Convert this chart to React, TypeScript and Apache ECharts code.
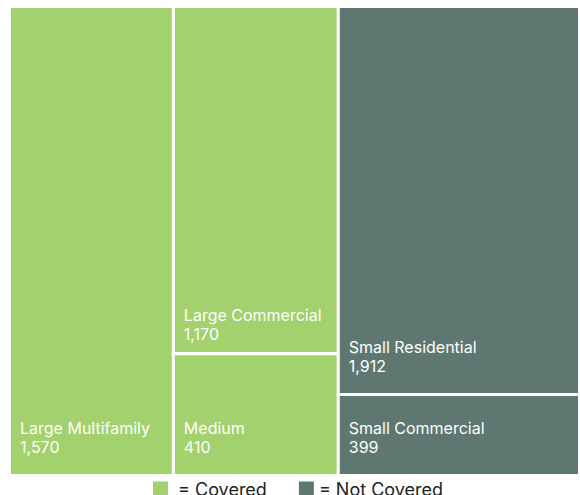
import React, { useEffect, useRef } from "react";
import * as echarts from "echarts";

// ---- data ----
const groups = ["Covered", "Not Covered"];
const categories = [
  "Large Multifamily",
  "Large Commercial",
  "Medium",
  "Small Residential",
  "Small Commercial",
];
const values = [1570, 1170, 410, 1912, 399];
const groupOf = ["Covered", "Covered", "Covered", "Not Covered", "Not Covered"];
const columnOf = [0, 1, 1, 2, 2];

// ---- styles ----
const groupColors: Record<string, string> = {
  Covered: "#a2d16d",
  "Not Covered": "#5e7771",
};
const labelBottomPad: Record<string, number> = { "Large Commercial": 9 };
const defaultBottomPad = 18;

export default function App() {
  const ref = useRef<HTMLDivElement>(null);

  useEffect(() => {
    if (!ref.current) return;
    const chart = echarts.init(ref.current, undefined, { renderer: "svg" });

    const total = values.reduce((a, b) => a + b, 0);
    const nCols = Math.max(...columnOf) + 1;
    const colTotals: number[] = new Array(nCols).fill(0);
    values.forEach((v, i) => (colTotals[columnOf[i]] += v));
    const colStart: number[] = [];
    let acc = 0;
    for (let c = 0; c < nCols; c++) {
      colStart.push(acc);
      acc += colTotals[c];
    }
    const colFill: number[] = new Array(nCols).fill(0);
    const cells = values.map((v, i) => {
      const c = columnOf[i];
      const y0 = colFill[c] / colTotals[c];
      colFill[c] += v;
      const y1 = colFill[c] / colTotals[c];
      return { idx: i, data: [colStart[c], colStart[c] + colTotals[c], y0, y1] };
    });

    const series = groups.map((g) => {
      const items = cells.filter((c) => groupOf[c.idx] === g);
      return {
        type: "custom",
        name: g,
        itemStyle: { color: groupColors[g] },
        data: items.map((c) => c.data),
        renderItem: (params: any, api: any) => {
          const cell = items[params.dataIndex];
          const name = categories[cell.idx];
          const p0 = api.coord([api.value(0), api.value(2)]);
          const p1 = api.coord([api.value(1), api.value(3)]);
          const x = Math.min(p0[0], p1[0]);
          const y = Math.min(p0[1], p1[1]);
          const w = Math.abs(p1[0] - p0[0]);
          const h = Math.abs(p1[1] - p0[1]);
          const pad = labelBottomPad[name] ?? defaultBottomPad;
          return {
            type: "group",
            children: [
              {
                type: "rect",
                shape: { x, y, width: w, height: h },
                style: { fill: groupColors[g], stroke: "#ffffff", lineWidth: 3 },
              },
              {
                type: "text",
                style: {
                  text: name + "\n" + values[cell.idx].toLocaleString("en-US"),
                  x: x + 1.5 + 9,
                  y: y + h - 1.5 - pad,
                  fill: "#ffffff",
                  fontSize: 16,
                  fontFamily: "Inter",
                  lineHeight: 19,
                  align: "left",
                  verticalAlign: "bottom",
                },
              },
            ],
          };
        },
      };
    });

    chart.setOption({
      animation: false,
      grid: { left: 9.5, top: 6.5, width: 570, height: 469 },
      xAxis: { type: "value", min: 0, max: total, show: false },
      yAxis: { type: "value", min: 0, max: 1, inverse: true, show: false },
      legend: {
        left: 153,
        top: 480,
        padding: 0,
        icon: "rect",
        itemWidth: 15,
        itemHeight: 15,
        itemGap: 32,
        data: groups,
        formatter: (n: string) => (n === "Covered" ? " = " + n : "= " + n),
        textStyle: { fontFamily: "Inter", fontSize: 18, color: "#222222" },
      },
      series,
    } as any);

    return () => chart.dispose();
  }, []);

  return (
    <div
      ref={ref}
      style={{ position: "absolute", left: 0, top: 0, width: 580, height: 495 }}
    />
  );
}
